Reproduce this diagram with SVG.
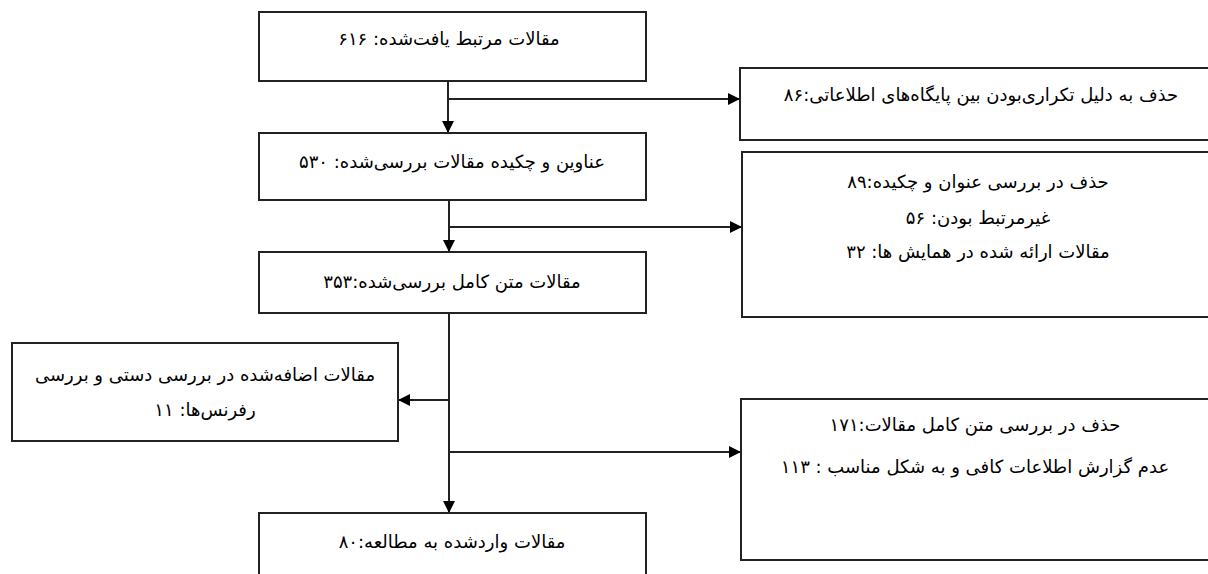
<svg xmlns="http://www.w3.org/2000/svg" width="1208" height="574" viewBox="0 0 1208 574">
<defs>
<marker id="ah" viewBox="0 0 12 12" refX="12" refY="6" markerWidth="12" markerHeight="12" markerUnits="userSpaceOnUse" orient="auto">
<path d="M0,0 L12,6 L0,12 Z" fill="#000"/>
</marker>
<style>
.box{fill:#fff;stroke:#222;stroke-width:2}
.t{font-family:"DejaVu Sans",sans-serif;font-size:18px;fill:#000;text-anchor:middle;direction:rtl}
.c{fill:none;stroke:#222;stroke-width:2}
</style>
</defs>
<rect width="1208" height="574" fill="#fff"/>
<g id="connectors">
<path class="c" d="M448 81 V133" marker-end="url(#ah)"/>
<path class="c" d="M448 99 H740" marker-end="url(#ah)"/>
<path class="c" d="M449 200 V252" marker-end="url(#ah)"/>
<path class="c" d="M449 227 H742" marker-end="url(#ah)"/>
<path class="c" d="M449 313 V513" marker-end="url(#ah)"/>
<path class="c" d="M449 400 H398" marker-end="url(#ah)"/>
<path class="c" d="M449 452 H741" marker-end="url(#ah)"/>
</g>
<g id="n1"><rect class="box" x="259" y="12" width="387" height="69"/><text class="t" x="449" y="45">مقالات مرتبط یافت‌شده: ۶۱۶</text></g>
<g id="n2"><rect class="box" x="740" y="68" width="474" height="72"/><text class="t" x="981" y="101">حذف به دلیل تکراری‌بودن بین پایگاه‌های اطلاعاتی:۸۶</text></g>
<g id="n3"><rect class="box" x="259" y="133" width="387" height="67"/><text class="t" x="452" y="168">عناوین و چکیده مقالات بررسی‌شده: ۵۳۰</text></g>
<g id="n4"><rect class="box" x="742" y="152" width="472" height="165"/>
<text class="t" x="978" y="188">حذف در بررسی عنوان و چکیده:۸۹</text>
<text class="t" x="978" y="224">غیرمرتبط بودن: ۵۶</text>
<text class="t" x="978" y="258">مقالات ارائه شده در همایش ها: ۳۲</text></g>
<g id="n5"><rect class="box" x="259" y="252" width="387" height="61"/><text class="t" x="452" y="288">مقالات متن کامل بررسی‌شده:۳۵۳</text></g>
<g id="n6"><rect class="box" x="12" y="343" width="386" height="98"/>
<text class="t" x="205" y="381">مقالات اضافه‌شده در بررسی دستی و بررسی</text>
<text class="t" x="205" y="416">رفرنس‌ها: ۱۱</text></g>
<g id="n7"><rect class="box" x="741" y="399" width="473" height="161"/>
<text class="t" x="975" y="431">حذف در بررسی متن کامل مقالات:۱۷۱</text>
<text class="t" x="975" y="473">عدم گزارش اطلاعات کافی و به شکل مناسب : ۱۱۳</text></g>
<g id="n8"><rect class="box" x="259" y="513" width="387" height="70"/><text class="t" x="452" y="548">مقالات واردشده به مطالعه:۸۰</text></g>
</svg>
